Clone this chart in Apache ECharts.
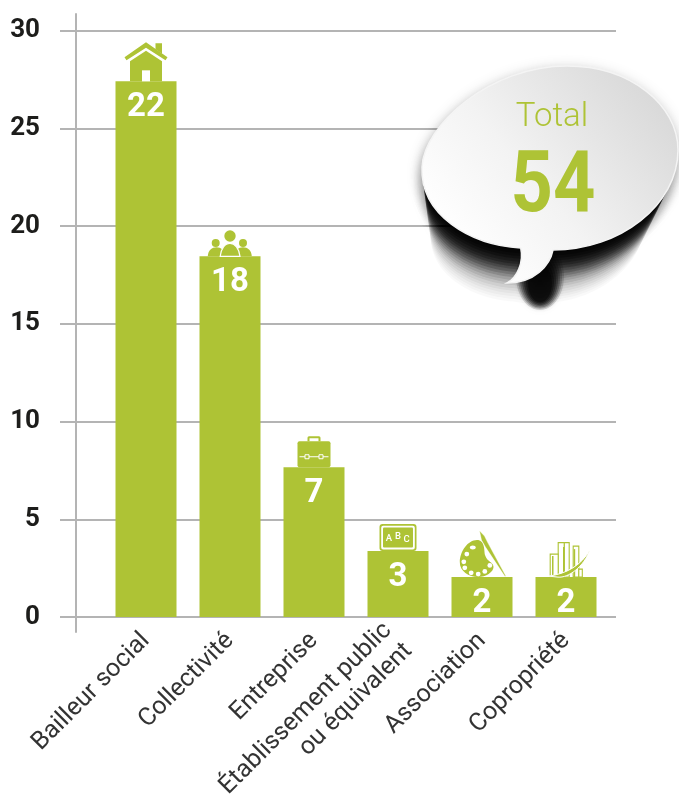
<!DOCTYPE html>
<html><head><meta charset="utf-8">
<style>html,body{margin:0;padding:0;background:#fff}#c{width:679px;height:796px}</style>
<script src="https://cdn.jsdelivr.net/npm/echarts@6/dist/echarts.min.js"></script>
</head><body><div id="c"></div>
<script>
const categories = ['Bailleur social','Collectivité','Entreprise','Établissement public\nou équivalent','Association','Copropriété'];
const barHeights = [27.4,18.45,7.66,3.37,2.04,2.04];
const barLabels = [22,18,7,3,2,2];
const icons = ['house','people','case','board','palette','city'];
const totalLabel = 'Total';
const totalValue = '54';
const GREEN = '#aec335', GRID = '#b4b4b4';

const bubble = 'M422,167C424,125 490,66 567,66C630,66 678,105 678,150C678,205 620,250 553,250C550,265 535,283 507,283C517,278 524,262 520.7,248C470,245 420,215 422,167Z';
const bubbleBody = 'M422,167C424,125 490,66 567,66C630,66 678,105 678,150C678,205 620,250 553,250C540,251 530,250 520.7,248C470,245 420,215 422,167Z';

function rect(x,y,w,h,fill,r){return {type:'rect',shape:{x,y,width:w,height:h,r:r||0},style:{fill}};}
function circ(cx,cy,r,fill){return {type:'circle',shape:{cx,cy,r},style:{fill}};}
function path(d,fill,extra){return {type:'path',shape:{pathData:d},style:Object.assign({fill},extra||{})};}
function txt(t,x,y,size,fill,weight){return {type:'text',x,y,style:{text:t,fill,font:(weight||500)+' '+size+'px Roboto',align:'center',verticalAlign:'middle'}};}

const iconDraw = {
  house: () => [
    path('M0,-30.5L16,-20L16,0L-16,0L-16,-20Z',GREEN),
    path('M9.5,-38L16,-38L16,-27.5L9.5,-32Z',GREEN),
    path('M-21.5,-24L0,-39L21.5,-24L19.5,-21L0,-33.5L-19.5,-21Z',GREEN),
    rect(-4,-11,8,11,'#fff')
  ],
  people: () => [
    circ(0,-20.3,5.7,GREEN), circ(-14.3,-13.3,4,GREEN), circ(13,-13.3,4,GREEN),
    path('M-22.2,0C-22,-6 -18,-9 -13.5,-9C-9,-9 -5.5,-6 -4.8,0Z',GREEN),
    path('M4.2,0C5,-6 8.5,-9 13,-9C17.5,-9 21.5,-6 21.8,0Z',GREEN),
    path('M-9.8,0C-9,-8 -5,-13 0,-13C5,-13 9,-8 10,0Z',GREEN,{stroke:'#fff',lineWidth:1.2})
  ],
  case: () => [
    path('M-6.5,-26L-6.5,-29.5Q-6.5,-31 -5,-31L5,-31Q6.5,-31 6.5,-29.5L6.5,-26L4.5,-26L4.5,-29L-4.5,-29L-4.5,-26Z',GREEN),
    rect(-16.5,-26,33,26,GREEN,2),
    rect(-14.5,-11,29,1,'#fff'),
    {type:'rect',shape:{x:-9,y:-12.5,width:4,height:4},style:{fill:GREEN,stroke:'#fff',lineWidth:1}},
    {type:'rect',shape:{x:5,y:-12.5,width:4,height:4},style:{fill:GREEN,stroke:'#fff',lineWidth:1}}
  ],
  board: () => [
    rect(-18.5,-27,37,27,GREEN,3),
    rect(-16.8,-25.3,33.6,23.6,'#fff',2),
    rect(-15,-23.5,30,20,GREEN,1),
    txt('A',-9,-12,9.5,'#fff'), txt('B',0,-14.5,9.5,'#fff'), txt('C',8.5,-11.5,9.5,'#fff')
  ],
  palette: () => {
    const dots = [[-15.2,-23],[-18.2,-15.3],[-17.2,-9.3],[-10.8,-4.3],[-3.8,-3],[2.8,-5.7],[7.8,-11.7]];
    return [
      path('M-5,-37C-14,-37 -22,-26 -22.2,-15C-22.5,-6 -13,0 -4,0C4,0 11.5,-5 11.5,-10C11.5,-15 5,-15 3,-22C2,-27 3,-37 -5,-37Z',GREEN),
      {type:'ellipse',shape:{cx:-9.2,cy:-29.5,rx:3,ry:2},style:{fill:'#fff'}},
      ...dots.map(d=>circ(d[0],d[1],2.4,'#fff')),
      path('M-2.5,-46.3L2.5,-41L6,-34L23.8,-1L23,-0.5L3.5,-30L-0.5,-37Z',GREEN,{stroke:'#fff',lineWidth:0.4})
    ];
  },
  city: () => {
    const s = {stroke:GREEN,lineWidth:1.1,fill:'#fff'};
    const t = (x,y,w,h)=>({type:'rect',shape:{x,y,width:w,height:h},style:s});
    return [
      t(7.2,-31,5.6,31), t(12.8,-8,3.5,8), t(-1.8,-34.5,5,34.5), t(-7.8,-34.5,6,34.5), t(-15.8,-23,8,23),
      rect(-3,-30,1.5,30,GREEN), rect(7.8,-28,1.4,28,GREEN), rect(-14,-21,1.5,21,GREEN),
      path('M-17.5,-1C0,-3 16,-12 24,-27.7C18,-10 2,1 -8,0Z',GREEN,{stroke:'#fff',lineWidth:1})
    ];
  }
};

function bubbleChildren(){
  const els = [];
  const layers = 20;
  for (let i = 0; i < layers; i++) {
    const t = (i + 1) / layers;
    const a = 0.5 * (1 - t) * (1 - t) + 0.025;
    els.push({type:'path',
      shape:{pathData:bubbleBody},
      originX:550,originY:158,
      scaleX:1-0.16*t,scaleY:1-0.16*t,
      x:-12*t,y:68*t,
      style:{fill:'rgba(0,0,0,'+a+')',shadowBlur:16,shadowColor:'rgba(0,0,0,'+a+')'}});
  }
  for (let i = 0; i < 7; i++) {
    const a = 0.14 + 0.05 * i;
    els.push({type:'ellipse',shape:{cx:540,cy:276+i*1.2,rx:24-i*2,ry:34-i*2.5},
      style:{fill:'rgba(0,0,0,'+a+')',shadowBlur:12,shadowColor:'rgba(0,0,0,'+a+')'}});
  }
  els.push({type:'path',shape:{pathData:bubble},
    style:{stroke:'#f4f4f4',lineWidth:1.5,
      fill:{type:'linear',x:0,y:1,x2:1,y2:0,colorStops:[{offset:0.15,color:'#ffffff'},{offset:0.45,color:'#f3f3f3'},{offset:1,color:'#d2d2d2'}]}}});
  els.push(txt(totalLabel,552,118,33,GREEN,300));
  const big = txt(totalValue,553,189,86,GREEN,700);
  big.scaleX=0.86;
  els.push(big);
  return els;
}

const option = {
  animation:false,
  textStyle:{fontFamily:'Roboto'},
  grid:[
    {left:60,right:63,top:30.5,height:586.5,outerBoundsMode:'none'},
    {left:104,right:71,top:30.5,height:586.5,outerBoundsMode:'none'},
    {left:76,right:63,top:14,height:618,outerBoundsMode:'none'}
  ],
  xAxis:[
    {gridIndex:0,type:'value',show:false},
    {gridIndex:1,type:'category',
      data:categories.map(c=>c.includes('\n')?{value:c,textStyle:{padding:[20,0,0,0]}}:c),
      axisLine:{show:false},axisTick:{show:false},splitLine:{show:false},
      axisLabel:{interval:0,rotate:45,margin:20,fontSize:25,lineHeight:29,color:'#333',fontFamily:'Roboto',fontWeight:400}},
    {gridIndex:2,type:'value',show:false}
  ],
  yAxis:[
    {gridIndex:0,type:'value',min:0,max:30,interval:5,
      axisLine:{show:false},axisTick:{show:false},
      splitLine:{lineStyle:{color:GRID,width:2}},
      axisLabel:{margin:20,fontSize:26,fontWeight:700,color:'#1d1d1b',fontFamily:'Roboto',padding:[0,0,5,0]}},
    {gridIndex:1,type:'value',min:0,max:30,interval:5,show:false},
    {gridIndex:2,type:'value',min:0,max:1,interval:1,
      axisLine:{show:true,lineStyle:{color:GRID,width:2}},
      axisTick:{show:false},axisLabel:{show:false},splitLine:{show:false}}
  ],
  series:[
    {type:'bar',xAxisIndex:1,yAxisIndex:1,data:barHeights,barWidth:61,z:3,
      itemStyle:{color:GREEN},
      label:{show:true,position:'insideTop',distance:10,color:'#fff',fontSize:33,fontWeight:700,fontFamily:'Roboto',
        formatter:p=>String(barLabels[p.dataIndex])}},
    {type:'custom',xAxisIndex:1,yAxisIndex:1,z:4,clip:false,silent:true,
      data:barHeights.map((v,i)=>[i,v]),
      encode:{x:0,y:1},
      renderItem:(params,api)=>{
        const pt = api.coord([api.value(0),api.value(1)]);
        return {type:'group',x:pt[0],y:pt[1],children:iconDraw[icons[params.dataIndex]]()};
      }},
    {type:'custom',coordinateSystem:'none',z:100,silent:true,data:[0],
      renderItem:()=>({type:'group',children:bubbleChildren()})}
  ]
};
const chart = echarts.init(document.getElementById('c'),null,{renderer:'canvas'});
chart.setOption(option);
</script></body></html>
